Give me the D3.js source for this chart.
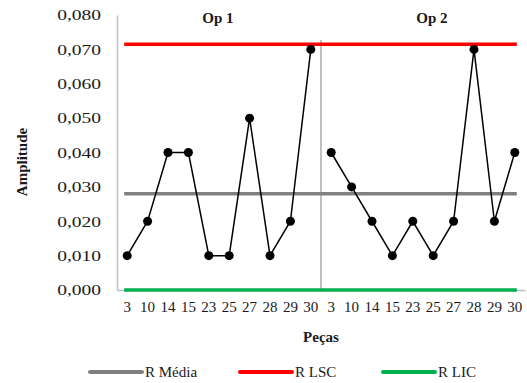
<html>
<head>
<meta charset="UTF-8">
<title>Amplitude</title>
</head>
<body style="margin:0">
<div id="chart"></div>
<script src="https://d3js.org/d3.v7.min.js"></script>
<script>
// pieces for each operator
const pieces = ["3", "10", "14", "15", "23", "25", "27", "28", "29", "30"];
const op1Values = [0.010, 0.020, 0.040, 0.040, 0.010, 0.010, 0.050, 0.010, 0.020, 0.070];
const op2Values = [0.040, 0.030, 0.020, 0.010, 0.020, 0.010, 0.020, 0.070, 0.020, 0.040];
const yTicks = [0, 0.01, 0.02, 0.03, 0.04, 0.05, 0.06, 0.07, 0.08];
const rMedia = 0.028;
const rLSC = 0.0715;
const rLIC = 0;
const sepTop = 0.0727;

const serif = '"Liberation Serif"';
const width = 527, height = 383;
const margin = { top: 15, right: 2, bottom: 93, left: 117 };
const innerW = width - margin.left - margin.right;
const innerH = height - margin.top - margin.bottom;

const points = op1Values.map((v, i) => ({ key: "a" + i, label: pieces[i], value: v }))
  .concat(op2Values.map((v, i) => ({ key: "b" + i, label: pieces[i], value: v })));

const svg = d3.select("#chart").append("svg")
  .attr("width", width)
  .attr("height", height);
const g = svg.append("g").attr("transform", `translate(${margin.left},${margin.top})`);

const x = d3.scaleBand().domain(points.map(d => d.key)).range([0, innerW]);
const y = d3.scaleLinear().domain([0, 0.08]).range([innerH, 0]);
const cx = d => x(d.key) + x.bandwidth() / 2;

// y axis
const yAxis = g.append("g")
  .call(d3.axisLeft(y).tickValues(yTicks).tickSize(0).tickFormat(d => d3.format(".3f")(d).replace(".", ",")));
yAxis.attr("font-family", null);
yAxis.select(".domain").attr("stroke", "#bfbfbf").attr("stroke-width", 1.5);
yAxis.selectAll("text")
  .attr("x", 0)
  .attr("fill", "#1a1a1a")
  .attr("transform", "translate(-16,0) scale(1.3,1)")
  .style("font-family", serif)
  .style("font-size", "15px");

// x axis
const xAxis = g.append("g")
  .attr("transform", `translate(0,${innerH})`)
  .call(d3.axisBottom(x).tickSize(0).tickFormat((k, i) => points[i].label));
xAxis.attr("font-family", null);
xAxis.select(".domain").attr("stroke", "#bfbfbf").attr("stroke-width", 1.5);
xAxis.selectAll("text")
  .attr("fill", "#1a1a1a").attr("dy", "0.71em").attr("y", 11)
  .style("font-family", serif)
  .style("font-size", "15px");

// separator between operators
const sepX = x(points[10].key);
g.append("line")
  .attr("x1", sepX).attr("x2", sepX)
  .attr("y1", y(sepTop)).attr("y2", y(0))
  .attr("stroke", "#c0c0c0").attr("stroke-width", 2);

// control lines
const first = cx(points[0]), last = cx(points[points.length - 1]);
const limits = [
  { v: rMedia, color: "#808080" },
  { v: rLSC, color: "#ff0000" },
  { v: rLIC, color: "#00b050" }
];
g.selectAll(".limit").data(limits).enter().append("line")
  .attr("class", "limit")
  .attr("x1", first - 3).attr("x2", last + 2)
  .attr("y1", d => y(d.v)).attr("y2", d => y(d.v))
  .attr("stroke", d => d.color).attr("stroke-width", 3.5);

// data line per operator
const line = d3.line().x(cx).y(d => y(d.value));
[points.slice(0, 10), points.slice(10)].forEach(seg => {
  g.append("path").datum(seg)
    .attr("d", line)
    .attr("fill", "none")
    .attr("stroke", "#000")
    .attr("stroke-width", 1.5);
});
g.selectAll(".dot").data(points).enter().append("circle")
  .attr("class", "dot")
  .attr("cx", cx).attr("cy", d => y(d.value))
  .attr("r", 4.5).attr("fill", "#000");

// text helper
function label(parent, txt, bold) {
  return parent.append("text")
    .attr("fill", "#1a1a1a")
    .style("font-family", serif)
    .style("font-size", "15px")
    .style("font-weight", bold ? "bold" : "normal")
    .text(txt);
}

// operator titles
label(g, "Op 1", true).attr("x", 218 - margin.left).attr("y", 23 - margin.top).attr("text-anchor", "middle");
label(g, "Op 2", true).attr("x", 432 - margin.left).attr("y", 23 - margin.top).attr("text-anchor", "middle");

// axis titles
label(svg, "Amplitude", true)
  .attr("transform", "translate(27,162) rotate(-90)")
  .attr("text-anchor", "middle");
label(svg, "Peças", true)
  .attr("x", 321).attr("y", 342)
  .attr("text-anchor", "middle");

// legend
const legendItems = [
  { name: "R Média", color: "#808080", x: 90 },
  { name: "R LSC", color: "#ff0000", x: 240 },
  { name: "R LIC", color: "#00b050", x: 383 }
];
legendItems.forEach(d => {
  const lg = svg.append("g").attr("transform", `translate(${d.x},372)`);
  lg.append("line")
    .attr("x1", 0).attr("x2", 52)
    .attr("stroke", d.color).attr("stroke-width", 4)
    .attr("stroke-linecap", "round");
  label(lg, d.name, false).attr("x", 55).attr("y", 5);
});
</script>
</body>
</html>
